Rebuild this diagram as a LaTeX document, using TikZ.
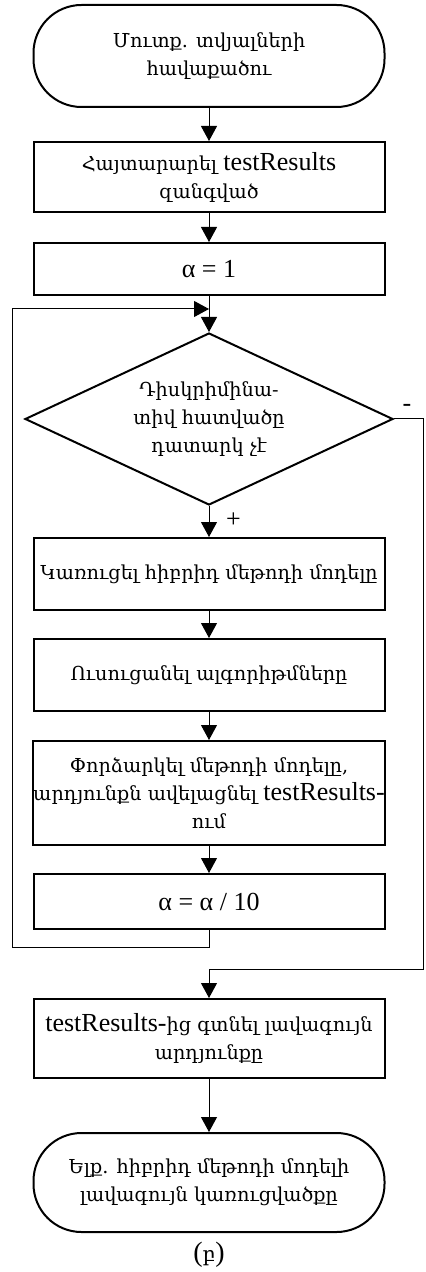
\documentclass[tikz,border=0pt]{standalone}
\usepackage{fontspec}
\setmainfont{Liberation Serif}
\newfontfamily\armfont[Scale=0.74]{DejaVu Serif}
\usetikzlibrary{shapes.geometric,arrows.meta,positioning}

\newcommand{\hy}[1]{{\armfont #1}}

\begin{document}
\begin{tikzpicture}[x=0.5pt,y=-0.5pt,
    proc/.style={rectangle,draw,line width=1pt,minimum width=175.5pt,align=center,inner sep=0pt,font=\fontsize{13}{14}\selectfont},
    term/.style={proc,rounded corners=24pt},
    decide/.style={diamond,draw,line width=1pt,aspect=2.14,minimum width=184pt,minimum height=86pt,inner sep=0pt,align=center,font=\fontsize{13}{14}\selectfont},
    flow/.style={line width=0.5pt,-{Triangle[width=8pt,length=7.5pt]}}]
        \useasboundingbox (0,0) rectangle (425,1272);

        % Start
        \node[term,minimum height=51pt] (start) at (209,56) {\hy{Մուտք. տվյալների}\\ \hy{հավաքածու}};

        % Setup
        \node[proc,minimum height=35pt] (declare) at (209,177) {\hy{Հայտարարել} testResults\\ \hy{զանգված}};
        \node[proc,minimum height=26pt] (init) at (209,269) {α = 1};

        % Loop
        \coordinate (join) at (209,309);
        \node[decide] (check) at (209,419) {\hy{Դիսկրիմինա-}\\ \hy{տիվ հատվածը}\\ \hy{դատարկ չէ}};
        \node[proc,minimum height=36pt] (build) at (209,574) {\hy{Կառուցել հիբրիդ մեթոդի մոդելը}};
        \node[proc,minimum height=36pt] (train) at (209,675) {\hy{Ուսուցանել ալգորիթմները}};
        \node[proc,minimum height=52pt] (test) at (209,793) {\hy{Փորձարկել մեթոդի մոդելը,}\\ \hy{արդյունքն ավելացնել} testResults-\\ \hy{ում}};
        \node[proc,minimum height=27.5pt] (step) at (209,901.5) {α = α / 10};

        % Result
        \node[proc,minimum height=39.5pt] (best) at (209,1038.5) {testResults-\hy{ից գտնել լավագույն}\\ \hy{արդյունքը}};
        \node[term,minimum height=49.5pt] (stop) at (209,1182.5) {\hy{Ելք. հիբրիդ մեթոդի մոդելի}\\ \hy{լավագույն կառուցվածքը}};
        \node[font=\fontsize{14}{14}\selectfont] (caption) at (209,1255) {(\hy{բ})};

        % Connectors
        \draw[flow] (start) -- (declare);
        \draw[flow] (declare) -- (init);
        \draw[flow] (init) -- (check);
        \draw[flow] (check) -- node[right=5pt,pos=0.45,font=\fontsize{13}{14}\selectfont] {+} (build);
        \draw[flow] (build) -- (train);
        \draw[flow] (train) -- (test);
        \draw[flow] (test) -- (step);
        \draw[flow] (step.south) -- (209,947) -- (12,947) -- (12,309) -- (join);
        \draw[flow] (check.east) -- node[above,pos=0.45,font=\fontsize{13}{14}\selectfont] {-} (423,419) -- (423,969) -- (209,969) -- (best);
        \draw[flow] (best) -- (stop);
    \end{tikzpicture}
\end{document}
